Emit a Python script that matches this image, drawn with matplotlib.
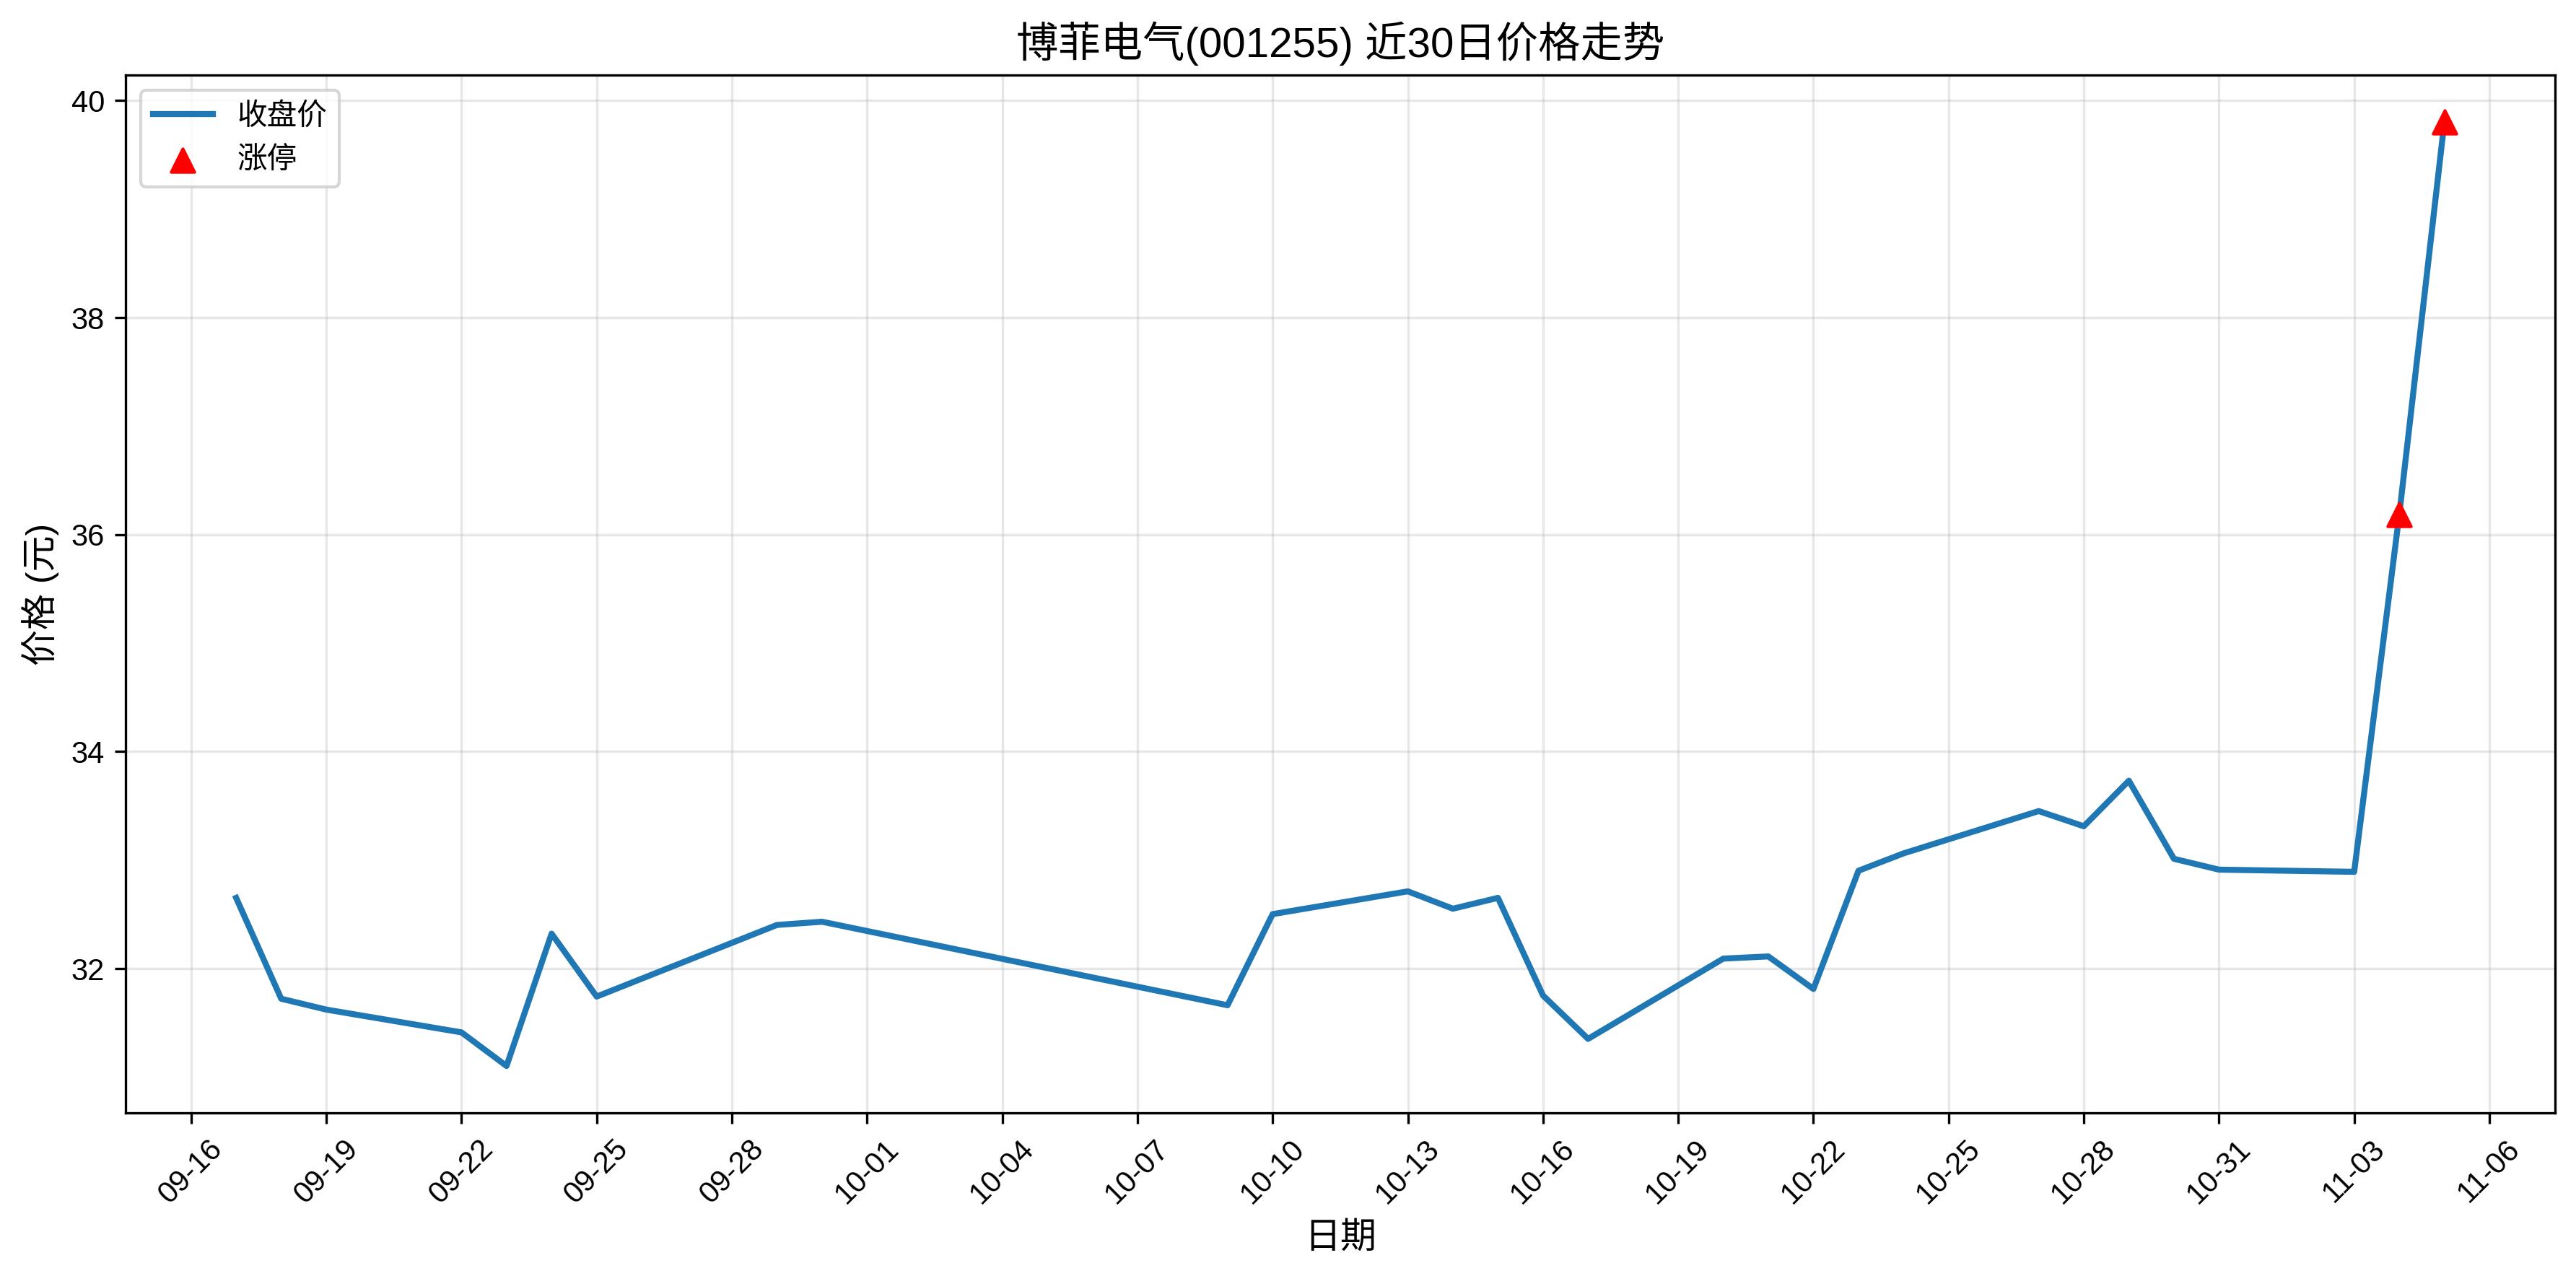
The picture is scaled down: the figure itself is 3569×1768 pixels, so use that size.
import pandas as pd
import matplotlib
matplotlib.use("Agg")
import matplotlib.pyplot as plt
import matplotlib.dates as mdates

plt.rcParams['font.family'] = ['Liberation Sans', 'Noto Sans CJK SC', 'DejaVu Sans']
plt.rcParams['axes.unicode_minus'] = False

# Closing prices (2025 trading days)
dates = ['2025-09-17', '2025-09-18', '2025-09-19', '2025-09-22', '2025-09-23',
         '2025-09-24', '2025-09-25', '2025-09-29', '2025-09-30', '2025-10-09',
         '2025-10-10', '2025-10-13', '2025-10-14', '2025-10-15', '2025-10-16',
         '2025-10-17', '2025-10-20', '2025-10-21', '2025-10-22', '2025-10-23',
         '2025-10-24', '2025-10-27', '2025-10-28', '2025-10-29', '2025-10-30',
         '2025-10-31', '2025-11-03', '2025-11-04', '2025-11-05']
close = [32.65, 31.72, 31.62, 31.41, 31.10,
         32.32, 31.74, 32.40, 32.43, 31.66,
         32.50, 32.71, 32.55, 32.65, 31.75,
         31.35, 32.09, 32.11, 31.81, 32.90,
         33.06, 33.45, 33.31, 33.73, 33.01,
         32.91, 32.89, 36.18, 39.80]

# Limit-up days
limit_dates = ['2025-11-04', '2025-11-05']
limit_close = [36.18, 39.80]

dates = pd.to_datetime(dates)
limit_dates = pd.to_datetime(limit_dates)

fig, ax = plt.subplots(figsize=(12, 6))
ax.plot(dates, close, linewidth=2, label='收盘价')
ax.scatter(limit_dates, limit_close, color='red', marker='^', s=60, zorder=5, label='涨停')

ax.set_title('博菲电气(001255) 近30日价格走势', fontsize=14)
ax.set_xlabel('日期', fontsize=12)
ax.set_ylabel('价格 (元)', fontsize=12)
ax.legend(loc='upper left')
ax.grid(True, alpha=0.3)

ax.xaxis.set_major_locator(mdates.DayLocator(interval=3))
ax.xaxis.set_major_formatter(mdates.DateFormatter('%m-%d'))
plt.xticks(rotation=45)

plt.tight_layout()
plt.savefig('out.png', dpi=300, bbox_inches='tight')
